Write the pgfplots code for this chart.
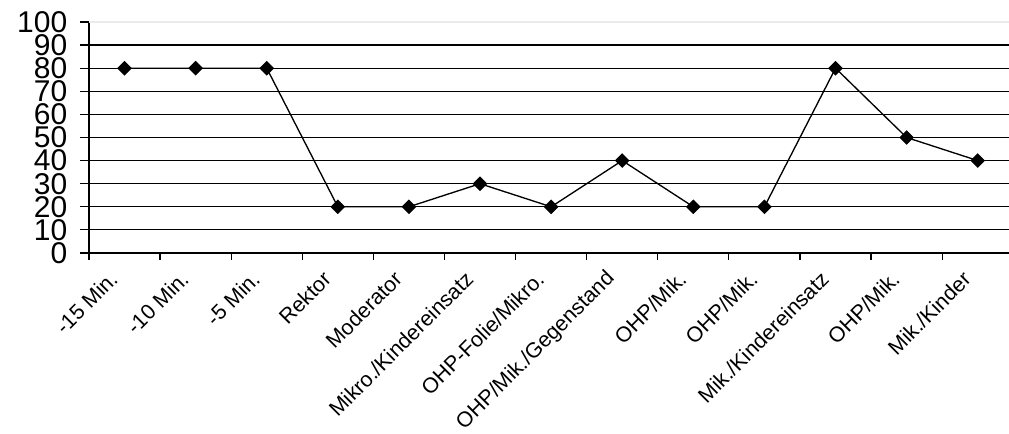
\documentclass[border=0pt]{standalone}
\usepackage{pgfplots}
\pgfplotsset{compat=1.18}
\usepackage{fontspec}
\setmainfont{Liberation Sans}
\begin{document}
\begin{tikzpicture}[x=1pt,y=1pt]
\begin{axis}[
  at={(0,0)}, anchor=south west,
  scale only axis,
  width=690pt, height=173.25pt,
  xmin=-0.5, xmax=12.44,
  ymin=0, ymax=100,
  axis lines=left,
  axis line style={-, line width=1pt},
  clip=false,
  /pgf/number format/assume math mode=true,
  ytick={0,10,...,90},
  extra y ticks={100},
  extra y tick style={major grid style={black!8, line width=0.8pt}},
  ymajorgrids,
  major grid style={black, line width=0.9pt},
  tick align=outside,
  major tick length=6.75pt,
  minor tick length=5pt,
  tick style={black, line width=0.9pt},
  xtick={0,...,12},
  major x tick style={draw=none},
  minor xtick={-0.5,0.5,...,11.5},
  xticklabels={-15 Min.,-10 Min.,-5 Min.,Rektor,Moderator,Mikro./Kindereinsatz,OHP-Folie/Mikro.,OHP/Mik./Gegenstand,OHP/Mik.,OHP/Mik.,Mik./Kindereinsatz,OHP/Mik.,Mik./Kinder},
  xticklabel style={inner sep=0pt, font=\fontsize{16}{16}\selectfont, xshift=-8pt, yshift=-10pt, rotate=45, anchor=east},
  yticklabel style={font=\fontsize{22.5}{22.5}\selectfont, xshift=-6pt},
]
\addplot[black, line width=1pt, mark=square*, mark size=3.4pt, mark options={rotate=45, fill=black}]
  coordinates {(0,80) (1,80) (2,80) (3,20) (4,20) (5,30) (6,20) (7,40) (8,20) (9,20) (10,80) (11,50) (12,40)};
\end{axis}
\pgfresetboundingbox
\path (-66.75pt,-135.75pt) rectangle (690pt,189.75pt);
\end{tikzpicture}
\end{document}
